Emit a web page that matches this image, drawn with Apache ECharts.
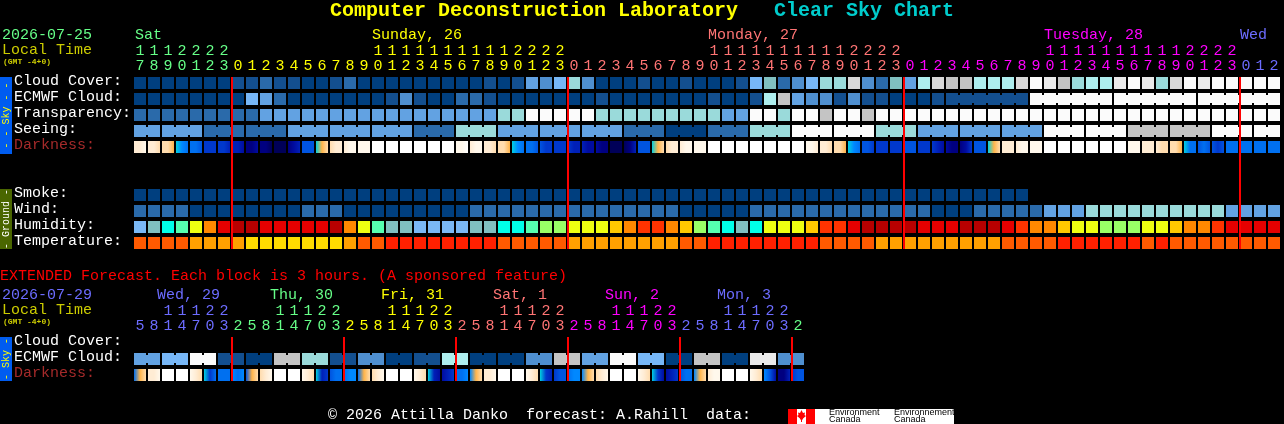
<!DOCTYPE html>
<html><head><meta charset="utf-8">
<style>html,body{margin:0;padding:0;background:#000}#c{width:1284px;height:424px}</style>
<script src="https://cdn.jsdelivr.net/npm/echarts@6/dist/echarts.min.js"></script>
</head><body><div id="c"></div>
<script>
// ---------- tick labels ----------
const hours = [17,18,19,20,21,22,23,
 0,1,2,3,4,5,6,7,8,9,10,11,12,13,14,15,16,17,18,19,20,21,22,23,
 0,1,2,3,4,5,6,7,8,9,10,11,12,13,14,15,16,17,18,19,20,21,22,23,
 0,1,2,3,4,5,6,7,8,9,10,11,12,13,14,15,16,17,18,19,20,21,22,23,
 0,1,2];
const extHours = [5,8,11,14,17,20,23,
 2,5,8,11,14,17,20,23, 2,5,8,11,14,17,20,23, 2,5,8,11,14,17,20,23,
 2,5,8,11,14,17,20,23, 2,5,8,11,14,17,20,23, 2];
const mainRowNames = ['Cloud Cover:','ECMWF Cloud:','Transparency:','Seeing:','Darkness:',' ','  ','Smoke:','Wind:','Humidity:','Temperature:'];
const extRowNames = ['Cloud Cover:','ECMWF Cloud:','Darkness:'];

// ---------- series values (level on each row's colour scale) ----------
const cloudCover = [0,0,0,0,0,0,0,1,1,2, 1,1,0,0,1,2,0,0,0,0, 0,0,0,0,0,1,0,1,4,3, 5,7,3,0,0,0,1,0,0,1,
 0,0,0,1,5,6,2,3,5,7, 7,10,3,2,6,4,8,10,9,9, 8,8,8,10,12,11,9,7,8,8, 11,12,11,7,10,12,11,12,12,12, 12,12];
const ecmwfCloud = [0,0,0,0,0,0,0,0,5,4, 2,0,0,0,0,0,0,0,1,3, 1,0,0,2,2,1,0,0,0,0, 0,0,0,1,0,0,0,0,0,0,
 0,1,0,0,1,8,9,4,3,3, 1,3,1,1,0,0,0,1,1,1, 1,1,1,1,12,12,12,12,12,12, 12,12,12,12,12,12,12,12,12,12, 12,12];
const transparency = [2,2,2,2,2,2,2,2,2,4, 4,4,4,4,4,4,4,4,4,4, 4,4,4,4,4,4,7,7,12,12, 12,12,12,7,7,7,7,7,7,7,
 7,7,4,4,12,12,7,12,12,9, 12,12,9,12,12,12,12,12,12,12, 12,12,12,12,12,12,12,12,12,12, 12,12,12,12,12,12,12,12,12,12, 12,12];
const seeing = [4,4,4,4,4,2,2,2,2,2, 2,4,4,4,4,4,4,4,4,4, 2,2,2,7,7,7,4,4,4,4, 4,4,4,4,4,2,2,2,0,0,
 0,2,2,2,7,7,7,12,12,12, 12,12,12,7,7,7,4,4,4,4, 4,4,4,4,4,12,12,12,12,12, 12,9,9,9,9,9,9,12,12,12, 12,12];
const smoke = [0,0,0,0,0,0,0,0,0,0, 0,0,0,0,0,0,0,0,0,0, 0,0,0,0,0,0,0,0,0,0, 0,0,0,0,0,0,0,0,0,0,
 0,0,0,0,0,0,0,0,0,0, 0,0,0,0,0,0,0,0,0,0, 0,0,0,0,null,null,null,null,null,null,
 null,null,null,null,null,null,null,null,null,null, null,null];
const wind = [2,2,2,2,0,0,0,0,0,0, 0,0,2,2,2,0,0,0,0,0, 0,0,0,0,2,2,2,2,2,2, 2,2,2,2,2,2,2,2,2,0,
 0,0,0,0,2,2,2,2,2,2, 2,2,2,2,2,2,2,0,0,0, 2,2,2,2,2,4,4,4,7,7, 7,7,7,7,7,7,7,7,4,4, 4,4];
const humidity = [0,1,2,3,5,7,9,10,10,9, 9,9,9,9,10,7,5,3,1,1, 0,0,0,0,1,1,2,2,3,4, 4,5,5,5,6,7,8,8,7,6,
 4,3,2,1,2,5,5,5,6,8, 8,9,10,10,10,10,9,9,9,10, 10,10,9,8,7,7,6,5,5,4, 4,4,5,5,6,7,7,8,9,9, 9,9];
const temperature = [2,2,2,2,1,1,1,1,0,0, 0,0,0,0,0,1,2,2,3,3, 3,3,3,3,3,3,2,2,2,2, 2,1,1,1,1,1,1,1,1,2,
 2,3,3,3,3,3,3,3,3,2, 2,2,2,1,1,1,1,1,1,1, 1,1,2,2,2,2,3,3,3,3, 3,3,2,3,2,2,2,2,2,2, 2,2];
// darkness: [left, middle, right] of each block
const darkness = [[2,2,1],[2,2,3],[3,3,4],[5,6,7],[7,7,8],[9,9,9],[9,9,10],[10,10,11],[12,12,11],[12,12,13],
 [13,13,13],[12,11,10],[8,8,8],[5,4,3],[3,2,2],[2,1,1],[1,1,1],[0,0,0],[0,0,0],[0,0,0],
 [0,0,0],[0,0,0],[0,0,0],[1,1,0],[2,1,1],[2,2,3],[3,3,4],[5,6,7],[7,7,8],[8,9,9],
 [9,9,9],[9,10,10],[10,11,11],[11,12,12],[13,13,13],[13,12,10],[8,8,8],[5,4,3],[3,2,2],[2,1,1],
 [1,1,1],[0,0,0],[0,0,0],[0,0,0],[0,0,0],[0,0,0],[0,0,0],[0,0,0],[1,1,2],[2,2,3],
 [3,3,4],[5,6,7],[8,8,9],[9,9,9],[9,9,9],[8,8,8],[9,9,9],[9,10,11],[11,12,12],[12,11,9],
 [8,8,8],[5,4,3],[2,2,2],[2,1,1],[1,1,1],[0,0,0],[0,0,0],[0,0,0],[0,0,0],[0,0,0],
 [0,0,0],[1,1,1],[2,2,2],[2,3,3],[3,3,4],[5,7,7],[8,7,8],[8,9,8],[7,7,7],[7,7,7],
 [7,7,7],[7,7,7]];
const extEcmwfCloud = [4,4,5,5,12,12,1,1,0,0,9,9,7,7,1,1,3,3,0,0,1,1,8,8,
 0,0,0,0,3,3,9,9,4,4,12,12,5,5,0,0,9,9,0,0,11,11,3,3];
const extDarkness = [[7,4,3],[2,2,1],[0,0,0],[0,0,0],[1,2,3],[5,9,7],[7,7,7],[6,7,6],[8,4,3],[3,2,1],
 [0,0,0],[0,0,0],[1,2,3],[5,10,9],[8,7,7],[7,6,6],[7,4,3],[3,2,1],[0,0,0],[0,0,0],
 [1,2,3],[5,10,11],[11,10,9],[7,7,6],[6,4,3],[2,2,1],[0,0,0],[0,0,0],[1,2,3],[5,9,10],
 [9,8,8],[7,6,6],[6,4,3],[3,2,1],[0,0,0],[0,0,0],[1,2,3],[5,9,11],[11,10,9],[8,7,7],
 [6,4,3],[2,1,1],[0,0,0],[0,0,0],[1,2,3],[6,8,11],[12,12,10],[9,8,8]];

// ---------- colour scales ----------
const skyColors = ['#003f7f','#134f8f','#2a6aaa','#4f8fcf','#62a2e2','#77b7f7','#80c0c0','#9adada','#aeeeee','#c4c4c4','#d8d8d8','#eaeaea','#fbfbfb'];
const humidityColors = ['#7ab8f5','#80c0c0','#00ffe8','#55ffb0','#99ff66','#eeff11','#ffc800','#ff8800','#ff3300','#e60000','#b80000'];
const temperatureColors = ['#ffdc00','#ffa000','#ff5a00','#ff2000'];
const darknessColors = ['#ffffff','#fff8ec','#ffecd4','#ffdcae','#ffb44a','#00d0e0','#0088ff','#0070f0','#0054e0','#0038cc','#0020b8','#000ca0','#000080','#000058'];
const dayColors = {green:'#66ff88',yellow:'#ffff00',salmon:'#ff7474',magenta:'#ff00ff',blue:'#6c6cff'};
const mainDayHeaders = [['Sat',0,'green'],['Sunday, 26',17,'yellow'],['Monday, 27',41,'salmon'],['Tuesday, 28',65,'magenta'],['Wed',79,'blue']];
const extDayHeaders = [['Wed, 29',1.64,'blue'],['Thu, 30',9.71,'green'],['Fri, 31',17.64,'yellow'],['Sat, 1',25.64,'salmon'],['Sun, 2',33.64,'magenta'],['Mon, 3',41.64,'blue']];

const MONO = '"Liberation Mono","DejaVu Sans Mono",monospace';
const pal = p => v => p[v];
const grad = v => new echarts.graphic.LinearGradient(0,0,1,0,[
  {offset:0,color:darknessColors[v[0]]},{offset:.5,color:darknessColors[v[1]]},{offset:1,color:darknessColors[v[2]]}]);
const none = () => false;

const mainRows = [
 {v:cloudCover,f:pal(skyColors),link:none},
 {v:ecmwfCloud,f:pal(skyColors),link:c=>c>=58&&c<81&&(c-58)%6!==5},
 {v:transparency,f:pal(skyColors),link:none},
 {v:seeing,f:pal(skyColors),link:c=>c<81&&c%3!==1},
 {v:darkness,f:grad,link:none},
 {v:[],f:null,link:none},{v:[],f:null,link:none},
 {v:smoke,f:pal(skyColors),link:none},
 {v:wind,f:pal(skyColors),link:none},
 {v:humidity,f:pal(humidityColors),link:none},
 {v:temperature,f:pal(temperatureColors),link:none}];
const extRows = [
 {v:[],f:null,link:none},
 {v:extEcmwfCloud,f:pal(skyColors),link:c=>c%2===0},
 {v:extDarkness,f:grad,link:none}];

function cellData(rows){
  const d=[];
  rows.forEach((r,ri)=>r.v.forEach((v,c)=>{ if(v!==null&&v!==undefined) d.push([c,ri]); }));
  return d;
}
function cellRenderer(rows){
  return (p,api)=>{
    const c=api.value(0), ri=api.value(1), r=rows[ri], pt=api.coord([c,ri]), sz=api.size([1,1]);
    const w=sz[0]-2, h=sz[1]-4, x=pt[0]-w/2, y=pt[1]-h/2, fill=r.f(r.v[c]);
    const kids=[{type:'rect',shape:{x,y,width:w,height:h},style:{fill}}];
    if(r.link(c)) kids.push({type:'rect',shape:{x:x+w,y:y+2,width:2,height:h-4},style:{fill}});
    return {type:'group',children:kids};
  };
}
function midnights(h){ const m=[]; h.forEach((v,i)=>{ if(i&&v<h[i-1]) m.push(i); }); return m; }
function lineRenderer(rowCount){
  return (p,api)=>{
    const c=api.value(0), a=api.coord([c,0]), b=api.coord([c,rowCount-1]), sz=api.size([1,1]);
    return {type:'rect',shape:{x:a[0]-sz[0]/2,y:a[1]-sz[1]/2+2,width:2,height:b[1]-a[1]+sz[1]-4},style:{fill:'#ff0000'}};
  };
}
const hourColor = (i,ext) => {
  const names = ext
    ? (i<7?'blue':i<15?'green':i<23?'yellow':i<31?'salmon':i<39?'magenta':i<47?'blue':'green')
    : (i<7?'green':i<31?'yellow':i<55?'salmon':i<79?'magenta':'blue');
  return dayColors[names];
};
function xAxis(gridIndex,data,ext){
  return {type:'category',gridIndex,position:'top',data:data.map(String),
    axisLine:{show:false},axisTick:{show:false},splitLine:{show:false},
    axisLabel:{interval:0,margin:1,fontFamily:MONO,fontSize:15,lineHeight:15,
      formatter:v=>(v.length>1?v[0]:'\u00a0')+'\n'+v[v.length-1],
      color:(v,i)=>hourColor(i,ext)}};
}
function yAxis(gridIndex,data){
  const labelStyle=color=>({color,fontFamily:MONO,fontSize:15,padding:[0,0,4,0]});
  return {type:'category',gridIndex,inverse:true,data,
    axisLine:{show:false},axisTick:{show:false},splitLine:{show:false},
    axisLabel:{interval:0,margin:119,align:'left',
      formatter:v=>v.trim()?(v==='Darkness:'?'{d|'+v+'}':'{w|'+v+'}'):'',
      rich:{w:labelStyle('#ffffff'),d:labelStyle('#a52a2a')}}};
}
const colX = c => 134+c*14;
const T = (text,x,y,fill,font) => ({type:'text',x,y,silent:true,style:{text,fill,font:font||('15px '+MONO),verticalAlign:'middle',align:'left'}});
const side = (y,h,bg,fg,txt) => ([
  {type:'rect',shape:{x:0,y,width:12,height:h},style:{fill:bg},silent:true},
  {type:'text',x:6,y:y+h/2,rotation:Math.PI/2,silent:true,style:{text:txt,fill:fg,font:'10px '+MONO,align:'center',verticalAlign:'middle'}}]);

const graphics = [
  T('Computer Deconstruction Laboratory',330,11,'#ffff00','bold 20px '+MONO),
  T('Clear Sky Chart',774,11,'#00cccc','bold 20px '+MONO),
  T('2026-07-25',2,35,dayColors.green),
  T('Local Time',2,50,'#cccc00'),
  T('(GMT -4+0)',3,62,'#cccc00','bold 8px '+MONO),
  T('EXTENDED Forecast. Each block is 3 hours. (A sponsored feature)',0,276,'#ff0000'),
  T('2026-07-29',2,295,dayColors.blue),
  T('Local Time',2,310,'#cccc00'),
  T('(GMT -4+0)',3,322,'#cccc00','bold 8px '+MONO),
  T('\u00a9 2026 Attilla Danko  forecast: A.Rahill  data:',328,415,'#ffffff'),
  ...side(77,77,'#005cf0','#ffff00','- - Sky - -'),
  ...side(189,60,'#4a6600','#ffffff','- Ground -'),
  ...side(337,44,'#005cf0','#ffff00','- Sky -'),
  {type:'rect',shape:{x:788,y:409,width:166,height:15},style:{fill:'#ffffff'},silent:true},
  {type:'rect',shape:{x:788,y:409,width:9,height:15},style:{fill:'#ff0000'},silent:true},
  {type:'rect',shape:{x:806,y:409,width:9,height:15},style:{fill:'#ff0000'},silent:true},
  {type:'polygon',silent:true,shape:{points:[[801.5,410],[803,413],[805,412.5],[804.5,415],[806,416],[803,418.5],[803,420],[802,419],[802,422],[801,422],[801,419],[800,420],[800,418.5],[797,416],[798.5,415],[798,412.5],[800,413]]},style:{fill:'#ff0000'}},
  T('Environment',829,413,'#000','9px "Liberation Sans",sans-serif'),
  T('Canada',829,420,'#000','9px "Liberation Sans",sans-serif'),
  T('Environnement',894,413,'#000','9px "Liberation Sans",sans-serif'),
  T('Canada',894,420,'#000','9px "Liberation Sans",sans-serif'),
  ...mainDayHeaders.map(d=>T(d[0],colX(d[1])+(d[1]===0?1:0),35,dayColors[d[2]])),
  ...extDayHeaders.map(d=>T(d[0],colX(d[1]),295,dayColors[d[2]]))
];

const chart = echarts.init(document.getElementById('c'),null,{renderer:'canvas',width:1284,height:424});
chart.setOption({
  backgroundColor:'#000000',animation:false,
  grid:[{left:133,top:75,width:1148,height:176,show:false},
        {left:133,top:335,width:672,height:48,show:false}],
  xAxis:[xAxis(0,hours,false),xAxis(1,extHours,true)],
  yAxis:[yAxis(0,mainRowNames),yAxis(1,extRowNames)],
  graphic:graphics,
  series:[
    {type:'custom',xAxisIndex:0,yAxisIndex:0,clip:false,data:cellData(mainRows),encode:{x:0,y:1},renderItem:cellRenderer(mainRows),z:2},
    {type:'custom',xAxisIndex:1,yAxisIndex:1,clip:false,data:cellData(extRows),encode:{x:0,y:1},renderItem:cellRenderer(extRows),z:2},
    {type:'custom',xAxisIndex:0,yAxisIndex:0,clip:false,data:midnights(hours).map(c=>[c,0]),encode:{x:0,y:1},renderItem:lineRenderer(11),z:3},
    {type:'custom',xAxisIndex:1,yAxisIndex:1,clip:false,data:midnights(extHours).map(c=>[c,0]),encode:{x:0,y:1},renderItem:lineRenderer(3),z:3}
  ]
});
</script></body></html>
